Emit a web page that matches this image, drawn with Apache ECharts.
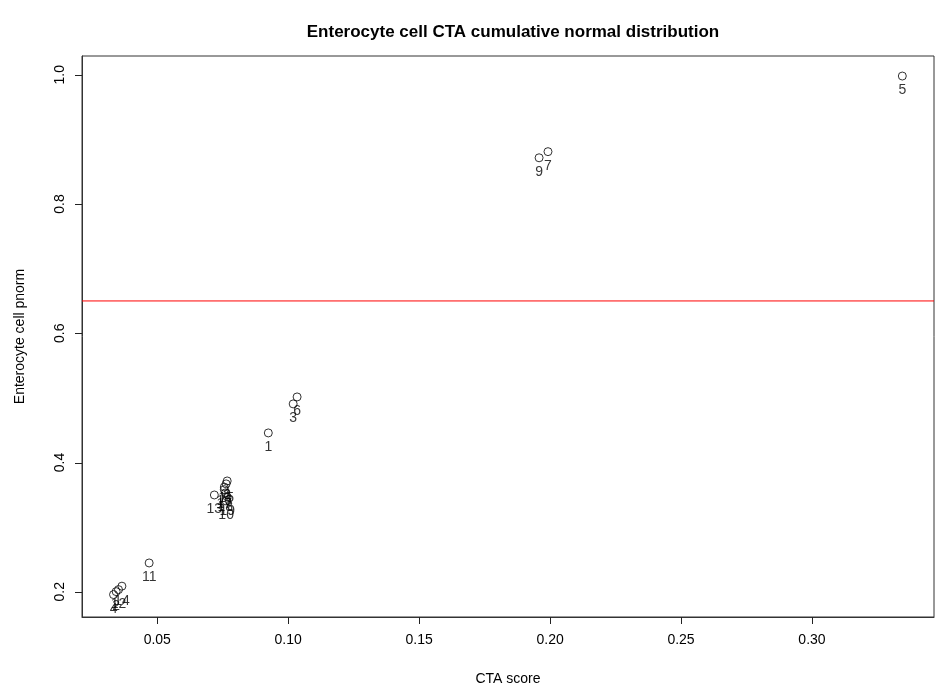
<!DOCTYPE html>
<html>
<head>
<meta charset="utf-8">
<script src="https://cdn.jsdelivr.net/npm/echarts@6/dist/echarts.min.js"></script>
<style>html,body{margin:0;padding:0;background:#fff;}#c{width:938px;height:694px;}</style>
</head>
<body>
<div id="c"></div>
<script>
const pointLabels = ['1','2','3','4','5','6','7','8','9','10','11','12','13','14','15','16','17','18','19'];
const ctaScore = [0.0924,0.0343,0.1019,0.0333,0.3345,0.1034,0.1992,0.0767,0.1958,0.0763,0.0469,0.0352,0.0718,0.0365,0.0763,0.0756,0.0756,0.0760,0.0767];
const pnormValues = [0.4458,0.2003,0.4907,0.1957,0.998,0.5015,0.881,0.3715,0.8715,0.3406,0.2446,0.2034,0.3498,0.2087,0.367,0.362,0.358,0.353,0.347];
const xTicks = [0.05,0.10,0.15,0.20,0.25,0.30];
const yTicks = [0.2,0.4,0.6,0.8,1.0];
const cutoff = 0.65;
const xMin = 0.02126, xMax = 0.3466, yMin = 0.161, yMax = 1.029;

const chart = echarts.init(document.getElementById('c'));
const font = 'Liberation Sans, Arial, Helvetica, sans-serif';
const data = ctaScore.map((x,i)=>({value:[x,pnormValues[i]], name:pointLabels[i]}));
const TICK = 7, AXC = '#333';
chart.setOption({
  animation:false,
  backgroundColor:'#fff',
  title:{text:'Enterocyte cell CTA cumulative normal distribution',left:508,textAlign:'center',top:19,
    textStyle:{fontFamily:font,fontSize:17,fontWeight:'bold',color:'#000'}},
  grid:{left:82,right:4,top:56,bottom:77,show:true,borderColor:AXC,borderWidth:1,backgroundColor:'transparent'},
  xAxis:{type:'value',min:xMin,max:xMax,name:'CTA score',nameLocation:'middle',nameGap:55,
    nameTextStyle:{fontFamily:font,fontSize:14,color:'#000'},
    splitLine:{show:false},axisLine:{show:true,lineStyle:{color:AXC}},axisTick:{show:false},
    axisLabel:{customValues:xTicks,margin:16,formatter:v=>v.toFixed(2),fontFamily:font,fontSize:14,color:'#000'}},
  yAxis:{type:'value',min:yMin,max:yMax,name:'Enterocyte cell pnorm',nameLocation:'middle',nameGap:55,
    nameTextStyle:{fontFamily:font,fontSize:14,color:'#000'},
    splitLine:{show:false},axisLine:{show:true,lineStyle:{color:AXC}},axisTick:{show:false},
    axisLabel:{customValues:yTicks,rotate:90,margin:15,formatter:v=>v.toFixed(1),fontFamily:font,fontSize:14,color:'#000'}},
  series:[
    {type:'line',data:[[xMin,cutoff],[xMax,cutoff]],symbol:'none',silent:true,
      lineStyle:{color:'#f00',width:1},itemStyle:{color:'#f00'},z:1},
    {type:'scatter',data:data,symbol:'circle',symbolSize:8,z:2,
    itemStyle:{color:'rgba(0,0,0,0)',borderColor:'#000',borderWidth:1},
    label:{show:true,position:'bottom',distance:3,formatter:p=>p.name,fontFamily:font,fontSize:14,color:'#000'}}
  ]
});
// axis ticks placed through the chart's own scales (drawn as 1px rects)
const tickEls = [];
xTicks.forEach(v=>{
  const p = chart.convertToPixel({gridIndex:0},[v,yMin]);
  tickEls.push({type:'rect',silent:true,z:100,shape:{x:Math.round(p[0]),y:Math.round(p[1]),width:1,height:TICK},style:{fill:'#222'}});
});
yTicks.forEach(v=>{
  const p = chart.convertToPixel({gridIndex:0},[xMin,v]);
  tickEls.push({type:'rect',silent:true,z:100,shape:{x:Math.round(p[0])-TICK,y:Math.round(p[1]),width:TICK,height:1},style:{fill:'#222'}});
});
chart.setOption({graphic:{elements:tickEls}});
</script>
</body>
</html>
